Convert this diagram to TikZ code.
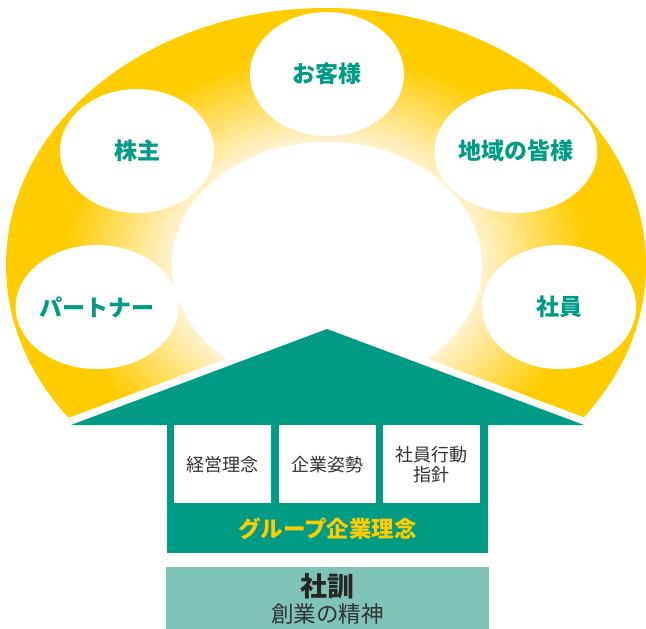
\documentclass[tikz,border=0pt]{standalone}
\usepackage{fontspec}
\setmainfont{Noto Sans CJK JP}
\usetikzlibrary{shapes.geometric}
\definecolor{gold}{RGB}{255,204,0}
\definecolor{paleY}{RGB}{255,243,210}
\definecolor{teal}{RGB}{0,155,132}
\definecolor{lteal}{RGB}{128,195,184}
\definecolor{dtext}{RGB}{51,51,51}
\tikzset{
  bub/.style={ellipse, fill=white, minimum width=154pt, minimum height=124pt, inner sep=0pt,
    text=teal, font=\bfseries\fontsize{23}{26}\selectfont},
  pillar/.style={fill=white, minimum width=97pt, minimum height=78pt, inner sep=0pt, anchor=north,
    text=dtext, font=\fontsize{18}{20}\selectfont, align=center}
}
\begin{document}
\begin{tikzpicture}[x=1pt,y=-1pt]
\useasboundingbox (0,0) rectangle (646,629);
% yellow ring with stepped radial gradient
\fill[gold] (326,265) ellipse [x radius=320, y radius=257];
\foreach \i in {0,...,60}{
  \pgfmathsetmacro\t{0.82-0.34*\i/60}
  \pgfmathsetmacro\p{100-100*\i/60}
  \fill[gold!\p!paleY] (326,265) ellipse [x radius=320*\t, y radius=257*\t];
}
\fill[white] (30,432.4) -- (327,321) -- (624,432.4) -- (624,640) -- (30,640) -- cycle;
\node[ellipse, fill=white, minimum width=310pt, minimum height=246pt, inner sep=0pt] (core) at (327,265) {};
% stakeholders
\node[bub] (cust) at (327,74) {お客様};
\node[bub] (share) at (137,151) {株主};
\node[bub] (local) at (516,151) {地域の皆様};
\node[bub] (partner) at (97,307) {パートナー};
\node[bub] (staff) at (559,307) {社員};
% roof
\fill[teal] (71,425) -- (327,329) -- (584,425) -- cycle;
\node[fill=teal, minimum width=321pt, minimum height=128pt, inner sep=0pt, anchor=north west] (body) at (167,424.5) {};
\node[pillar] (p1) at (222.5,425) {経営理念};
\node[pillar] (p2) at (327.5,425) {企業姿勢};
\node[pillar] (p3) at (431.5,425) {社員行動\\指針};
\node[text=gold, font=\bfseries\fontsize{22.5}{26}\selectfont] (group) at (327.5,529) {グループ企業理念};
% foundation
\node[fill=lteal, minimum width=323pt, minimum height=62pt, inner sep=0pt, anchor=north west] (base) at (166,567) {};
\node[text=black!85, font=\bfseries\fontsize{27}{30}\selectfont] (kun) at (327.5,586) {社訓};
\node[text=dtext, font=\fontsize{22.5}{26}\selectfont] (spirit) at (327.5,614) {創業の精神};
\end{tikzpicture}
\end{document}
